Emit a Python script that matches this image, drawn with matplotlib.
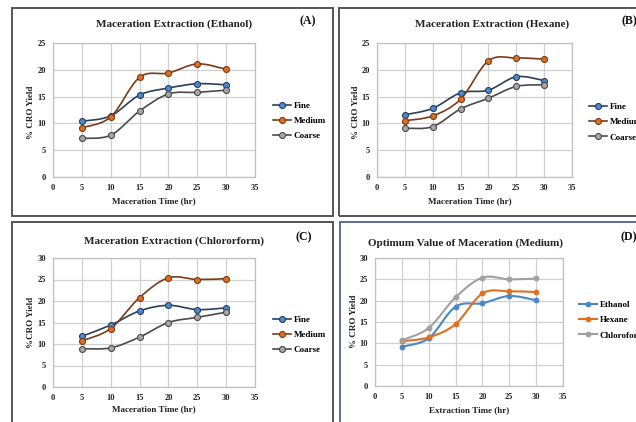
import numpy as np
import matplotlib
matplotlib.use("Agg")
import matplotlib.pyplot as plt
from matplotlib.path import Path
from matplotlib.patches import PathPatch, Rectangle
from matplotlib.lines import Line2D

plt.rcParams["font.family"] = ["Liberation Serif", "DejaVu Serif"]
plt.rcParams["font.weight"] = "bold"

# data
hours = [5, 10, 15, 20, 25, 30]

eth_fine = [10.4, 11.4, 15.3, 16.6, 17.4, 17.2]
eth_medium = [9.2, 11.2, 18.6, 19.4, 21.1, 20.1]
eth_coarse = [7.2, 7.8, 12.3, 15.5, 15.8, 16.2]

hex_fine = [11.6, 12.8, 15.7, 16.2, 18.7, 18.0]
hex_medium = [10.5, 11.4, 14.5, 21.7, 22.2, 22.0]
hex_coarse = [9.1, 9.4, 12.7, 14.7, 16.9, 17.2]

chl_fine = [11.8, 14.4, 17.7, 19.0, 18.0, 18.4]
chl_medium = [10.7, 13.6, 20.8, 25.4, 25.0, 25.2]
chl_coarse = [8.9, 9.1, 11.6, 15.0, 16.2, 17.4]

size_labels = ["Fine", "Medium", "Coarse"]
solvent_labels = ["Ethanol", "Hexane", "Chloroform"]

W, H = 636, 422
fig = plt.figure(figsize=(W / 100, H / 100), dpi=100)


def px_axes(l, t, r, b):
    return fig.add_axes([l / W, 1 - b / H, (r - l) / W, (b - t) / H])


def smooth(ax, x, y, **kw):
    # Excel style smoothed line (cubic bezier through the points)
    p = np.column_stack([x, y]).astype(float)
    n = len(p)
    verts = [p[0]]
    codes = [Path.MOVETO]
    for i in range(n - 1):
        p0 = p[i - 1] if i > 0 else p[i]
        p3 = p[i + 2] if i + 2 < n else p[i + 1]
        c1 = p[i] + (p[i + 1] - p0) / 6
        c2 = p[i + 1] - (p3 - p[i]) / 6
        verts += [c1, c2, p[i + 1]]
        codes += [Path.CURVE4] * 3
    ax.add_patch(PathPatch(Path(verts, codes), fill=False, capstyle="round", **kw))


def panel(box, ymax, series, labels, styles, title, title_xy, ylab, ylab_xy,
          xlab, xlab_xy, tag, tag_xy, leg_xy, ms, lw):
    ax = px_axes(*box)
    handles = []
    for ys, lab, (lc, fc) in zip(series, labels, styles):
        smooth(ax, hours, ys, color=lc, lw=lw, zorder=3)
        ax.plot(hours, ys, ls="none", marker="o", ms=ms, mfc=fc, mec=lc,
                mew=0.8, zorder=4)
        handles.append(Line2D([], [], color=lc, lw=lw, marker="o", ms=ms,
                              mfc=fc, mec=lc, mew=0.8, label=lab))
    ax.set_xlim(0, 35)
    ax.set_ylim(0, ymax)
    ax.set_xticks(range(0, 36, 5))
    ax.set_yticks(range(0, ymax + 1, 5))
    ax.grid(True, color="#d0d0d0", lw=0.9)
    ax.set_axisbelow(True)
    for s in ax.spines.values():
        s.set_color("#c0c0c0")
        s.set_linewidth(0.9)
    ax.tick_params(length=0, labelsize=6, pad=5, colors="#222222")
    for t in ax.get_xticklabels() + ax.get_yticklabels():
        t.set_fontweight("bold")
    fig.text(title_xy[0] / W, 1 - title_xy[1] / H, title, ha="center",
             va="center", fontsize=8, fontweight="bold", color="#222222")
    fig.text(ylab_xy[0] / W, 1 - ylab_xy[1] / H, ylab, ha="center",
             va="center", rotation=90, fontsize=6.5, fontweight="bold",
             color="#222222")
    fig.text(xlab_xy[0] / W, 1 - xlab_xy[1] / H, xlab, ha="center",
             va="center", fontsize=6.5, fontweight="bold", color="#222222")
    fig.text(tag_xy[0] / W, 1 - tag_xy[1] / H, tag, ha="center",
             va="center", fontsize=8.5, fontweight="bold", color="#111111")
    fig.legend(handles=handles, loc="upper left",
               bbox_to_anchor=(leg_xy[0] / W, 1 - leg_xy[1] / H),
               frameon=False, fontsize=6.5, handlelength=2.0,
               handletextpad=0.3, labelspacing=0.75, borderpad=0,
               borderaxespad=0, prop={"weight": "bold", "size": 6.5})
    return ax


size_styles = [("#2b3f5a", "#4a8ad0"), ("#7a3a1a", "#e07020"), ("#4a4a4a", "#a8a8a8")]
solv_styles = [("#4a86c8", "#4a86c8"), ("#e07020", "#e07020"), ("#a0a0a0", "#a0a0a0")]

# panel frames
frame = dict(fill=False, lw=1.4, transform=fig.transFigure, zorder=0)
fig.patches += [
    Rectangle((12 / W, 1 - 216 / H), 321 / W, 208 / H, ec="#555555", **frame),
    Rectangle((339 / W, 1 - 216 / H), 320 / W, 208 / H, ec="#555555", **frame),
    Rectangle((12 / W, 1 - 440 / H), 321 / W, 218 / H, ec="#555555", **frame),
    Rectangle((340 / W, 1 - 440 / H), 320 / W, 218 / H, ec="#5a6e9a", **frame),
]

panel((53, 43, 255, 177), 25, [eth_fine, eth_medium, eth_coarse], size_labels,
      size_styles, "Maceration Extraction (Ethanol)", (174, 24), "% CRO Yield",
      (31, 112), "Maceration Time (hr)", (154, 201), "(A)", (308, 21),
      (273, 102), 4.3, 1.2)
panel((377, 43, 572, 177), 25, [hex_fine, hex_medium, hex_coarse], size_labels,
      size_styles, "Maceration Extraction (Hexane)", (492, 24), "% CRO Yield",
      (356, 112), "Maceration Time (hr)", (470, 201), "(B)", (629, 21),
      (589, 103), 4.3, 1.2)
panel((53, 258, 255, 387), 30, [chl_fine, chl_medium, chl_coarse], size_labels,
      size_styles, "Maceration Extraction (Chlororform)", (174, 241),
      "%CRO Yield", (31, 322), "Maceration Time (hr)", (154, 409), "(C)",
      (304, 237), (273, 316), 4.3, 1.2)
panel((375, 258, 563, 386), 30, [eth_medium, hex_medium, chl_medium],
      solvent_labels, solv_styles, "Optimum Value of Maceration (Medium)",
      (465, 243), "% CRO Yield", (354, 321), "Extraction Time (hr)",
      (469, 410), "(D)", (629, 237), (579, 301), 3.4, 1.5)

fig.savefig("out.png", dpi=100)
